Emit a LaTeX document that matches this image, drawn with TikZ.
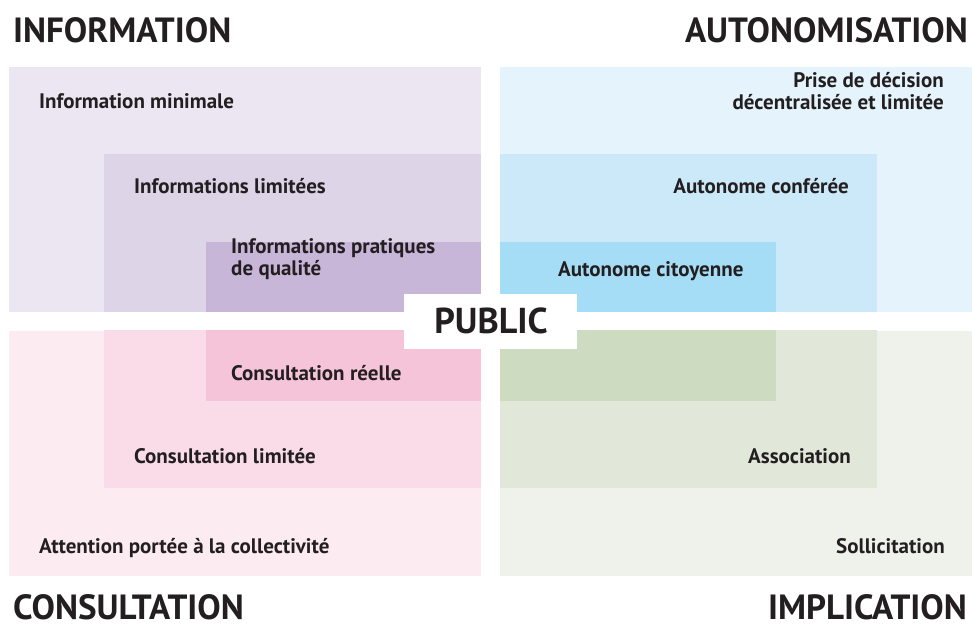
\documentclass[tikz,border=0pt]{standalone}
\usepackage{fontspec}
\setmainfont{PT Sans}
\definecolor{infoA}{HTML}{ECE6F2}
\definecolor{infoB}{HTML}{DDD4E8}
\definecolor{infoC}{HTML}{C8B6D9}
\definecolor{autoA}{HTML}{E5F4FC}
\definecolor{autoB}{HTML}{CBE9F9}
\definecolor{autoC}{HTML}{A5DDF6}
\definecolor{consA}{HTML}{FCEBF1}
\definecolor{consB}{HTML}{FADCE8}
\definecolor{consC}{HTML}{F6C4D9}
\definecolor{implA}{HTML}{EFF2EA}
\definecolor{implB}{HTML}{E1E8D9}
\definecolor{implC}{HTML}{CDDBC1}
\definecolor{ink}{HTML}{231F20}
\begin{document}
\begin{tikzpicture}[x=1pt,y=-1pt,
  title/.style={inner sep=0pt,text=ink,font=\fontsize{35}{38}\selectfont\bfseries},
  lbl/.style={inner sep=0pt,text=ink,font=\fontsize{21}{22}\selectfont\bfseries},
  lblL/.style={lbl,anchor=base west,align=left},
  lblR/.style={lbl,anchor=base east,align=right}]
\useasboundingbox[fill=white] (0,0) rectangle (973,626);
% INFORMATION quadrant
\fill[infoA] (9,67) rectangle (481,312);
\fill[infoB] (104,154) rectangle (481,312);
\fill[infoC] (206,242) rectangle (481,312);
% AUTONOMISATION quadrant
\fill[autoA] (500,67) rectangle (972,312);
\fill[autoB] (500,154) rectangle (877,312);
\fill[autoC] (500,242) rectangle (776,312);
% CONSULTATION quadrant
\fill[consA] (9,331) rectangle (481,576);
\fill[consB] (104,330) rectangle (481,488);
\fill[consC] (206,330) rectangle (481,401);
% IMPLICATION quadrant
\fill[implA] (500,331) rectangle (972,576);
\fill[implB] (500,330) rectangle (877,488);
\fill[implC] (500,330) rectangle (776,401);
% PUBLIC box
\node[fill=white,minimum width=173pt,minimum height=55pt,inner sep=0pt] (pubbox) at (490.5,321.5) {};
\node[title,font=\fontsize{36}{38}\selectfont\bfseries,anchor=base] (public) at (491,333) {PUBLIC};
% titles
\node[title,anchor=base west] (tinfo) at (13,42) {INFORMATION};
\node[title,anchor=base east] (tauto) at (968,42) {AUTONOMISATION};
\node[title,anchor=base west] (tcons) at (13,619) {CONSULTATION};
\node[title,anchor=base east] (timpl) at (967,619) {IMPLICATION};
% labels
\node[lblL] (l1) at (39,108) {Information minimale};
\node[lblL] (l2) at (134,193) {Informations limitées};
\node[lblL] (l3) at (231,275) {Informations pratiques\\de qualité};
\node[lblR] (r1) at (944,109) {Prise de décision\\décentralisée et limitée};
\node[lblR] (r2) at (849,193) {Autonome conférée};
\node[lblL] (r3) at (558,276) {Autonome citoyenne};
\node[lblL] (c3) at (231,380) {Consultation réelle};
\node[lblL] (c2) at (134,463) {Consultation limitée};
\node[lblL] (c1) at (39,553) {Attention portée à la collectivité};
\node[lblR] (i2) at (851,463) {Association};
\node[lblR] (i1) at (945,553) {Sollicitation};
\end{tikzpicture}
\end{document}
